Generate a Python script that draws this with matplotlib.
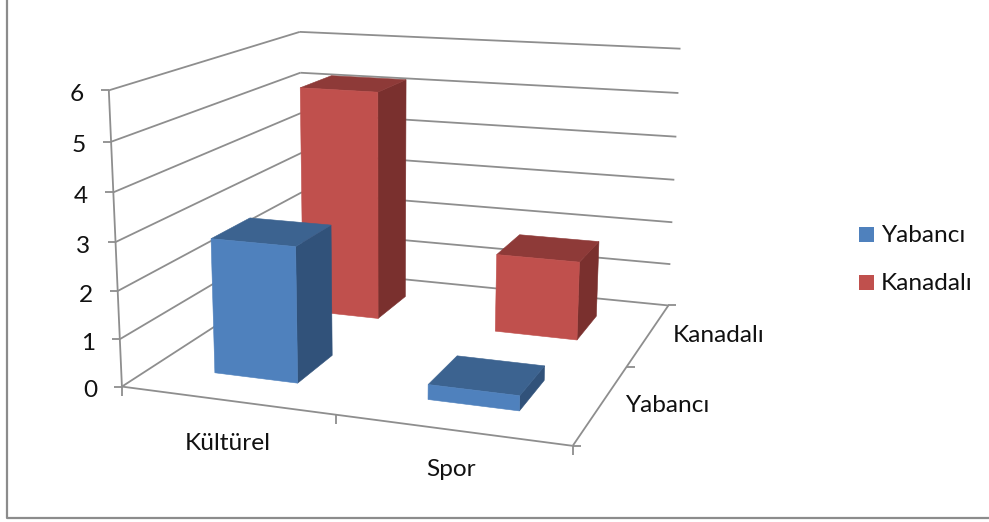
import numpy as np
import matplotlib
matplotlib.use("Agg")
import matplotlib.pyplot as plt
from matplotlib.patches import Polygon, Rectangle

categories = ["Kültürel", "Spor"]
series = ["Yabancı", "Kanadalı"]
yabanci = [2.85, 0.31]
kanadali = [5.2, 1.76]
z_ticks = [0, 1, 2, 3, 4, 5, 6]
z_max = 6

FRONT = {"Yabancı": "#4F81BD", "Kanadalı": "#C0504D"}
SIDE = {"Yabancı": "#31527A", "Kanadalı": "#7A302E"}
TOP = {"Yabancı": "#3C6390", "Kanadalı": "#8E3A38"}
GRID = "#8E8E8E"
FONT = "Lato"
FS = 17.6

# box corners (x, depth, height) in unit space and where they fall on the canvas
calib_box = [(0, 0, 0), (1, 0, 0), (1, 1, 0), (0, 1, 0), (0, 0, 1), (0, 1, 1), (1, 1, 1),
             (1, 1, 0.5), (0, 0, 0.5)]
calib_px = [(122, 385), (573, 447), (668, 304), (303, 271), (109, 91), (300, 31), (680, 49),
            (675, 180), (115, 242)]


def fit_camera(box, px):
    rows, rhs = [], []
    for (a, b, c), (u, v) in zip(box, px):
        rows.append([a, b, c, 1, 0, 0, 0, 0, -u * a, -u * b, -u * c])
        rows.append([0, 0, 0, 0, a, b, c, 1, -v * a, -v * b, -v * c])
        rhs += [u, v]
    sol = np.linalg.lstsq(np.array(rows, float), np.array(rhs, float), rcond=None)[0]
    return np.append(sol, 1).reshape(3, 4)


CAM = fit_camera(calib_box, calib_px)


def proj(x, y, z):
    p = CAM @ np.array([x, y, z / z_max, 1.0])
    return p[0] / p[2], p[1] / p[2]


fig = plt.figure(figsize=(9.89, 5.22), dpi=100)
ax = fig.add_axes([0, 0, 1, 1])
ax.set_xlim(0, 989)
ax.set_ylim(522, 0)
ax.axis("off")


def line(a, b, lw=1.3, color=GRID, z=1):
    ax.plot([a[0], b[0]], [a[1], b[1]], color=color, lw=lw, zorder=z, solid_capstyle="butt")


# chart frame
ax.plot([7, 7, 989], [0, 518, 518], color="#8C8C8C", lw=1.6, zorder=0)

# gridlines on the walls, value axis
for t in z_ticks:
    line(proj(0, 0, t), proj(0, 1, t))
    line(proj(0, 1, t), proj(1, 1, t))
    fx, fy = proj(0, 0, t)
    line((fx - 8, fy), (fx, fy))
    ax.text(fx - 25, fy + 4, str(t), ha="right", va="center", fontsize=FS, family=FONT, color="#111111")
line(proj(0, 0, 0), proj(0, 0, z_max))
bx, by = proj(1, 1, 0)
line((bx, by), (bx + 8, by))

# floor edges and ticks
line(proj(0, 0, 0), proj(1, 0, 0))
line(proj(1, 0, 0), proj(1, 1, 0))
for k in (0, 0.5, 1):
    px_, py_ = proj(k, 0, 0)
    line((px_, py_), (px_, py_ + 9))
for k in (0, 0.5):
    px_, py_ = proj(1, k, 0)
    line((px_, py_), (px_ + 8, py_))

# bars, back row first
half_w = 0.1
cat_centres = [0.25, 0.75]
ser_centres = {"Yabancı": 0.25, "Kanadalı": 0.75}
values = {"Yabancı": yabanci, "Kanadalı": kanadali}
order = 10
for name in ["Kanadalı", "Yabancı"]:
    yc = ser_centres[name]
    for xc, val in zip(cat_centres, values[name]):
        x0, x1, y0, y1 = xc - half_w, xc + half_w, yc - half_w, yc + half_w
        faces = [
            ([(x1, y0, 0), (x1, y1, 0), (x1, y1, val), (x1, y0, val)], SIDE[name]),
            ([(x0, y0, val), (x1, y0, val), (x1, y1, val), (x0, y1, val)], TOP[name]),
            ([(x0, y0, 0), (x1, y0, 0), (x1, y0, val), (x0, y0, val)], FRONT[name]),
        ]
        for verts, col in faces:
            ax.add_patch(Polygon([proj(*v) for v in verts], closed=True, fc=col, ec=col, lw=0.4, zorder=order))
    order += 1

# labels
txt = dict(fontsize=FS, family=FONT, color="#111111", va="center")
ax.text(228, 443, categories[0], ha="center", **txt)
ax.text(451, 470, categories[1], ha="center", **txt)
ax.text(673, 336, series[1], ha="left", **txt)
ax.text(625, 406, series[0], ha="left", **txt)

# legend
for name, ytop in zip(series, (227, 275)):
    ax.add_patch(Rectangle((859, ytop), 15, 15, fc=FRONT[name], ec="none", zorder=5))
    ax.text(881, ytop + 8, name, ha="left", **txt)

fig.savefig("out.png", dpi=100, facecolor="white")
